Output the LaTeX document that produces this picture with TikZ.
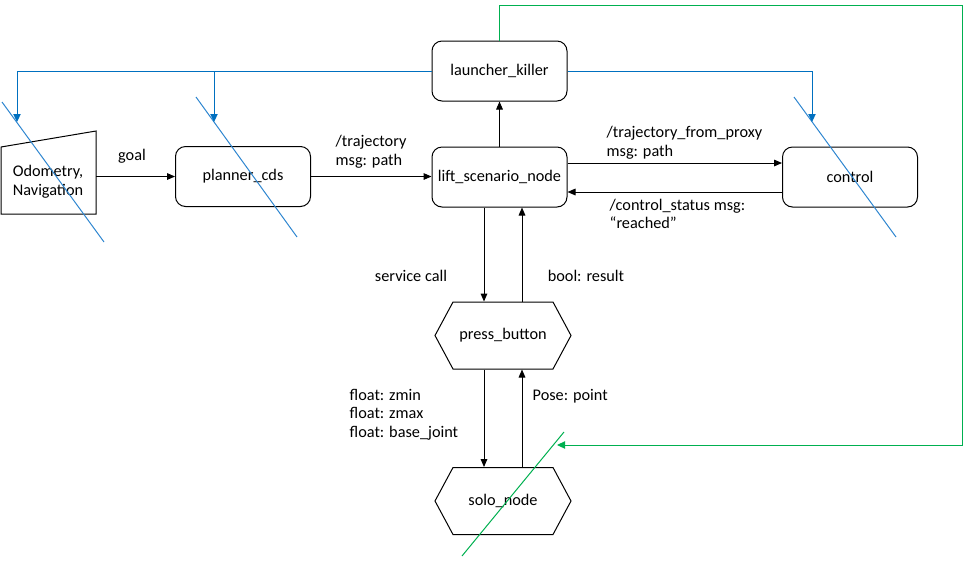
\documentclass[tikz,border=0pt]{standalone}
\usepackage{fontspec}
\setmainfont{Carlito}
\usetikzlibrary{arrows.meta,shapes.symbols}
\definecolor{linkblue}{RGB}{0,112,192}
\definecolor{slashblue}{RGB}{46,134,208}
\definecolor{killgreen}{RGB}{0,176,80}
\tikzset{
  proc/.style={draw, rounded corners=7.5pt, minimum width=101.25pt, minimum height=45pt, line width=0.75pt},
  hexa/.style={draw, signal, signal to=east and west, signal pointer angle=123.5, minimum width=102pt, minimum height=50.25pt, line width=0.75pt},
  msg/.style={-{Triangle[length=6pt,width=5pt]}, line width=0.75pt},
  kill/.style={-{Triangle[length=6pt,width=5.5pt]}, linkblue, line width=0.75pt},
  slash/.style={slashblue, line width=0.75pt}
}
\begin{document}
\begin{tikzpicture}[x=0.75pt,y=-0.75pt,font=\fontsize{12.2}{13.9}\selectfont]
  \useasboundingbox (0,0) rectangle (972,562);

  % Define the nodes
  \node[proc] (killer) at (499.5,71) {launcher\_killer};
  \node[proc] (lift) at (499.5,177) {lift\_scenario\_node};
  \node[proc] (planner) at (243,176.5) {planner\_cds};
  \node[proc] (control) at (850,177) {control};
  \node[hexa] (press) at (503,335.5) {press\_button};
  \node[hexa] (solo) at (503,501) {solo\_node};

  % Draw the manual input shape
  \draw[line width=0.75pt] (1,147) -- (96,131) -- (96,214) -- (1,214) -- cycle;
  \node[align=center] (odom) at (48,182) {Odometry,\\Navigation};
  \coordinate (odomout) at (96,176.5);

  % Draw the crossing-out lines
  \draw[slash] (2,102) -- (104,242);
  \draw[slash] (196,97) -- (297,237);
  \draw[slash] (794,97) -- (896,237);
  \draw[slash, killgreen] (564,432) -- (462,556);

  % Draw the launcher connectors
  \coordinate (odomin) at (17,122);
  \coordinate (plannerin) at (214,122);
  \coordinate (controlin) at (812,122);
  \coordinate (corner) at (962,5);
  \coordinate (soloin) at (557,445);
  \draw[kill] (killer.west) -| (odomin);
  \draw[kill] (plannerin |- killer.west) -- (plannerin);
  \draw[kill] (killer.east) -| (controlin);
  \draw[kill, killgreen] (killer.north) |- (corner) |- (soloin);

  % Draw the messages
  \coordinate (down) at (484,0);
  \coordinate (up) at (522,0);
  \draw[msg] (odomout) -- (planner.west);
  \draw[msg] (planner.east) -- (lift.west |- planner.east);
  \draw[msg] (lift.north) -- (killer.south);
  \draw[msg] ([yshift=10.5pt]lift.east) -- ([yshift=10.5pt]control.west);
  \draw[msg] ([yshift=-11.25pt]control.west) -- ([yshift=-11.25pt]lift.east);
  \draw[msg] (lift.south -| down) -- (press.north -| down);
  \draw[msg] (press.north -| up) -- (lift.south -| up);
  \draw[msg] (press.south -| down) -- (solo.north -| down);
  \draw[msg] (solo.north -| up) -- (press.south -| up);

  % Write the labels
  \node (lblgoal) at (132,156) {goal};
  \node[right, align=left] (lbltraj) at (331,151.5) {/trajectory\\msg: path};
  \node[right, align=left] (lblproxy) at (602,142.5) {/trajectory\_from\_proxy\\msg: path};
  \node[right, align=left] (lblstatus) at (605,214) {/control\_status msg:\\“reached”};
  \node (lblcall) at (411,276) {service call};
  \node (lblresult) at (586,276) {bool: result};
  \node[right, align=left] (lblfloat) at (345,414.5) {float: zmin\\float: zmax\\float: base\_joint};
  \node[right] (lblpose) at (528,396) {Pose: point};

\end{tikzpicture}
\end{document}
